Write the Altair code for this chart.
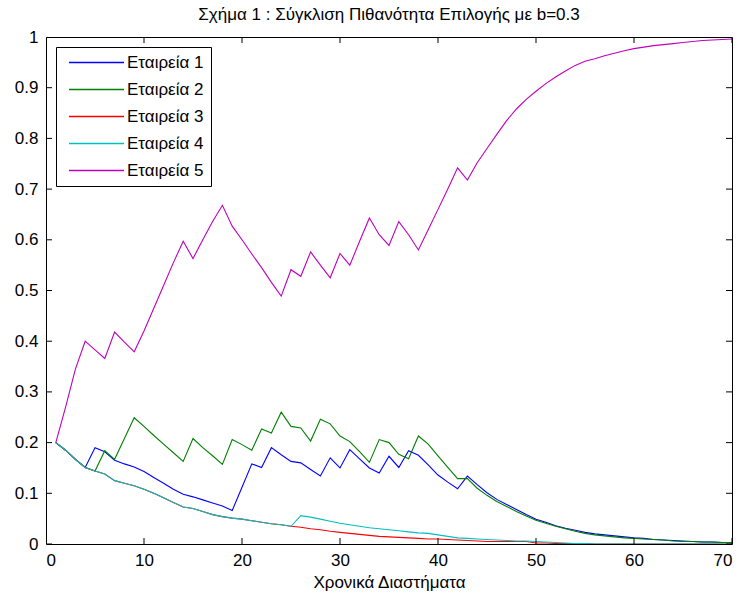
import altair as alt
import pandas as pd

# time steps
t = list(range(1, 71))

names = ["Εταιρεία 1", "Εταιρεία 2", "Εταιρεία 3", "Εταιρεία 4", "Εταιρεία 5"]
colors = ["#0000ff", "#008000", "#ff0000", "#00bfbf", "#bf00bf"]

firm1 = [0.200, 0.185, 0.167, 0.151, 0.190, 0.182, 0.165, 0.158, 0.152, 0.143,
         0.131, 0.120, 0.108, 0.098, 0.093, 0.087, 0.081, 0.075, 0.066, 0.112,
         0.158, 0.151, 0.190, 0.176, 0.163, 0.160, 0.147, 0.134, 0.170, 0.150,
         0.186, 0.168, 0.150, 0.140, 0.173, 0.151, 0.184, 0.175, 0.156, 0.136,
         0.122, 0.109, 0.134, 0.117, 0.101, 0.088, 0.078, 0.068, 0.058, 0.049,
         0.043, 0.036, 0.031, 0.027, 0.023, 0.020, 0.018, 0.016, 0.014, 0.012,
         0.011, 0.009, 0.008, 0.007, 0.006, 0.005, 0.004, 0.004, 0.003, 0.003]

firm2 = [0.200, 0.185, 0.167, 0.151, 0.144, 0.184, 0.167, 0.208, 0.249, 0.232,
         0.214, 0.197, 0.180, 0.163, 0.208, 0.190, 0.174, 0.157, 0.206, 0.196,
         0.185, 0.227, 0.219, 0.260, 0.232, 0.229, 0.203, 0.246, 0.237, 0.213,
         0.202, 0.182, 0.161, 0.206, 0.200, 0.177, 0.168, 0.213, 0.197, 0.174,
         0.151, 0.129, 0.129, 0.110, 0.096, 0.084, 0.074, 0.064, 0.055, 0.047,
         0.041, 0.035, 0.030, 0.025, 0.021, 0.018, 0.016, 0.014, 0.012, 0.011,
         0.010, 0.009, 0.008, 0.006, 0.005, 0.005, 0.004, 0.004, 0.003, 0.003]

firm3 = [0.200, 0.185, 0.167, 0.151, 0.144, 0.138, 0.125, 0.120, 0.115, 0.108,
         0.100, 0.091, 0.082, 0.073, 0.070, 0.064, 0.058, 0.054, 0.051, 0.049,
         0.046, 0.043, 0.040, 0.038, 0.035, 0.033, 0.030, 0.028, 0.025, 0.023,
         0.021, 0.019, 0.017, 0.015, 0.014, 0.013, 0.012, 0.011, 0.010, 0.010,
         0.009, 0.008, 0.007, 0.006, 0.005, 0.005, 0.005, 0.005, 0.005, 0.002,
         0.002, 0.001, 0.001, 0.001, 0.001, 0.000, 0.000, 0.000, 0.000, 0.000,
         0.000, 0.000, 0.000, 0.000, 0.000, 0.000, 0.000, 0.000, 0.000, 0.000]

firm4 = [0.200, 0.185, 0.167, 0.151, 0.144, 0.138, 0.125, 0.120, 0.115, 0.108,
         0.100, 0.091, 0.082, 0.073, 0.070, 0.064, 0.058, 0.054, 0.051, 0.049,
         0.046, 0.043, 0.040, 0.038, 0.035, 0.056, 0.053, 0.049, 0.045, 0.041,
         0.038, 0.035, 0.032, 0.030, 0.028, 0.026, 0.024, 0.022, 0.021, 0.018,
         0.015, 0.012, 0.011, 0.010, 0.009, 0.008, 0.007, 0.006, 0.006, 0.005,
         0.004, 0.003, 0.002, 0.001, 0.001, 0.000, 0.000, 0.000, 0.000, 0.000,
         0.000, 0.000, 0.000, 0.000, 0.000, 0.000, 0.000, 0.000, 0.000, 0.000]

firm5 = [0.200, 0.270, 0.345, 0.400, 0.383, 0.366, 0.418, 0.398, 0.379, 0.420,
         0.465, 0.510, 0.555, 0.597, 0.563, 0.600, 0.636, 0.668, 0.627, 0.600,
         0.572, 0.545, 0.516, 0.489, 0.541, 0.528, 0.576, 0.550, 0.525, 0.573,
         0.550, 0.597, 0.643, 0.610, 0.589, 0.636, 0.610, 0.580, 0.620, 0.660,
         0.700, 0.742, 0.718, 0.752, 0.780, 0.808, 0.835, 0.858, 0.877, 0.893,
         0.908, 0.921, 0.933, 0.944, 0.952, 0.957, 0.963, 0.968, 0.973, 0.977,
         0.980, 0.983, 0.985, 0.987, 0.989, 0.991, 0.993, 0.994, 0.995, 0.996]

x_ticks = [0, 10, 20, 30, 40, 50, 60, 70]
y_ticks = [0, 0.1, 0.2, 0.3, 0.4, 0.5, 0.6, 0.7, 0.8, 0.9, 1]
x_range = [0, 70]
y_range = [0, 1]

series = [firm1, firm2, firm3, firm4, firm5]
rows = []
for name, vals in zip(names, series):
    for ti, v in zip(t, vals):
        rows.append({"t": ti, "p": v, "firm": name})
df = pd.DataFrame(rows)

# tick-mark tables for the box frame (tick values on both edges)
xt = pd.DataFrame([{"t": xv, "p": yv} for xv in x_ticks for yv in y_range])
yt = pd.DataFrame([{"t": xv, "p": yv} for yv in y_ticks for xv in x_range])

FONT = "Liberation Sans"
FS = 17
W, H = 686, 507

x_scale = alt.Scale(domain=x_range, nice=False, zero=False)
y_scale = alt.Scale(domain=y_range, nice=False)

x_axis = alt.Axis(orient="bottom", values=x_ticks, title="Χρονικά Διαστήματα",
                  ticks=False, domain=False, labelPadding=8, titlePadding=6, format="d")
y_axis = alt.Axis(orient="left", values=y_ticks, title=None,
                  ticks=False, domain=False, labelPadding=8, format="~g")

lines = alt.Chart(df).mark_line(strokeWidth=1.1, clip=True).encode(
    x=alt.X("t:Q", scale=x_scale, axis=x_axis),
    y=alt.Y("p:Q", scale=y_scale, axis=y_axis),
    color=alt.Color("firm:N", scale=alt.Scale(domain=names, range=colors),
                    legend=alt.Legend(orient="none", legendX=10, legendY=10, title=None,
                                      symbolType="M-1,0H9", symbolSize=121,
                                      symbolStrokeWidth=1.5, symbolOffset=3,
                                      labelOffset=44, labelFontSize=FS, labelFont=FONT,
                                      labelColor="#000000", rowPadding=9, padding=7,
                                      strokeColor="#000000", fillColor="#ffffff")),
    order=alt.Order("t:Q"),
)

# inward ticks: centred on the frame edge, outer half clipped away
xtick_marks = alt.Chart(xt).mark_tick(
    orient="vertical", size=12, thickness=1, color="#000000", clip=True, opacity=1
).encode(
    x=alt.X("t:Q", scale=x_scale, axis=x_axis),
    y=alt.Y("p:Q", scale=y_scale, axis=y_axis),
)

ytick_marks = alt.Chart(yt).mark_tick(
    orient="horizontal", size=12, thickness=1, color="#000000", clip=True, opacity=1
).encode(
    x=alt.X("t:Q", scale=x_scale, axis=x_axis),
    y=alt.Y("p:Q", scale=y_scale, axis=y_axis),
)

chart = alt.layer(lines, xtick_marks, ytick_marks).properties(
    width=W,
    height=H,
    title=alt.TitleParams("Σχήμα 1 : Σύγκλιση Πιθανότητα Επιλογής με b=0.3",
                          font=FONT, fontSize=FS, fontWeight="normal", color="#000000",
                          anchor="middle", frame="group", offset=4),
    autosize=alt.AutoSizeParams(type="none"),
    padding={"left": 46, "top": 37, "right": 8, "bottom": 50},
    background="#ffffff",
).configure_view(
    stroke="#000000", strokeWidth=1
).configure_axis(
    grid=False, labelFont=FONT, labelFontSize=FS, labelColor="#000000",
    titleFont=FONT, titleFontSize=FS, titleFontWeight="normal", titleColor="#000000"
)

chart.save("out.html", embed_options={"renderer": "svg", "actions": False})
